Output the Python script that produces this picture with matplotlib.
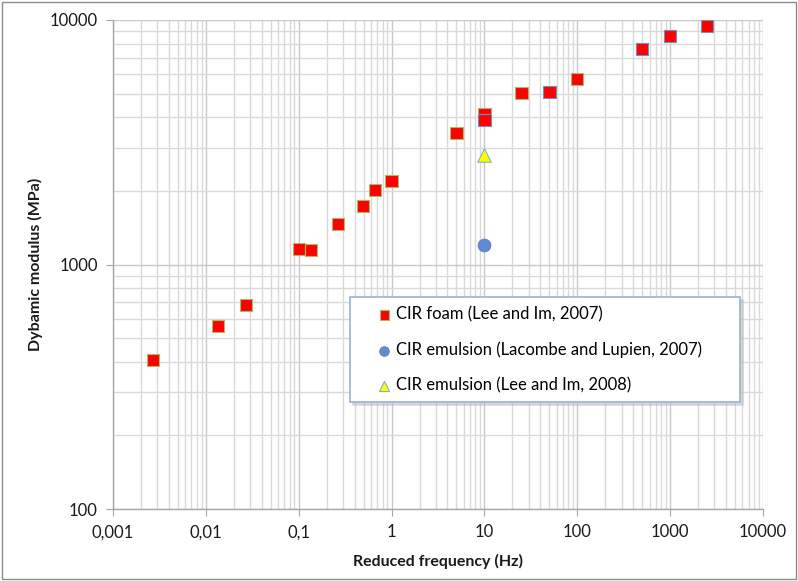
import matplotlib
matplotlib.use('Agg')
import matplotlib.pyplot as plt
from matplotlib.ticker import FixedLocator, NullFormatter
from matplotlib.patches import Rectangle

# ---- data ----
foam_freq = [0.0027, 0.0135, 0.027, 0.1, 0.135, 0.265, 0.49, 0.66, 1.0,
             5, 10, 10, 25, 50, 100, 500, 1000, 2500]
foam_mod = [407, 560, 683, 1157, 1146, 1465, 1735, 2017, 2197,
            3450, 4130, 3900, 5025, 5080, 5737, 7610, 8600, 9450]
lacombe_freq = [10]
lacombe_mod = [1200]
lee08_freq = [10]
lee08_mod = [2800]

x_ticks = [0.001, 0.01, 0.1, 1, 10, 100, 1000, 10000]
x_tick_labels = ['0,001', '0,01', '0,1', '1', '10', '100', '1000', '10000']
y_ticks = [100, 1000, 10000]
y_tick_labels = ['100', '1000', '10000']

labels = ['CIR foam (Lee and Im, 2007)',
          'CIR emulsion (Lacombe and Lupien, 2007)',
          'CIR emulsion (Lee and Im, 2008)']

plt.rcParams['font.family'] = ['Lato', 'DejaVu Sans']

W, H = 798, 581
fig = plt.figure(figsize=(W / 100, H / 100), dpi=100)
fig.patches.append(Rectangle((2 / W, 2 / H), 1 - 4 / W, 1 - 4 / H,
                             transform=fig.transFigure, fill=False,
                             edgecolor='#8c8c8c', linewidth=1.0))

L, R, T, B = 113, 763, 20, 509
ax = fig.add_axes([L / W, 1 - B / H, (R - L) / W, (B - T) / H])
ax.set_xscale('log')
ax.set_yscale('log')
ax.set_xlim(0.001, 10000)
ax.set_ylim(100, 10000)

# grid: minor lines at 1..9 of each decade
xminor = [m * 10.0 ** e for e in range(-3, 4) for m in range(1, 10)] + [10000]
yminor = [m * 10.0 ** e for e in range(2, 4) for m in range(1, 10)] + [10000]
ax.xaxis.set_minor_locator(FixedLocator(xminor))
ax.yaxis.set_minor_locator(FixedLocator(yminor))
ax.xaxis.set_minor_formatter(NullFormatter())
ax.yaxis.set_minor_formatter(NullFormatter())
ax.grid(True, which='minor', color='#d9d9d9', linewidth=1.0)
ax.grid(True, which='major', color='#c8c8c8', linewidth=1.0)
ax.set_axisbelow(True)

ax.set_xticks(x_ticks)
ax.set_xticklabels(x_tick_labels)
ax.set_yticks(y_ticks)
ax.set_yticklabels(y_tick_labels)
ax.tick_params(which='minor', length=0)
ax.tick_params(which='major', length=5, color='#a6a6a6', labelsize=12,
               labelcolor='#1a1a1a')
ax.tick_params(axis='x', pad=6)
ax.tick_params(axis='y', pad=6)

for s in ['top', 'right']:
    ax.spines[s].set_visible(False)
for s in ['left', 'bottom']:
    ax.spines[s].set_color('#a6a6a6')
    ax.spines[s].set_linewidth(1.0)

edge_cols = ['#a9b96a'] * len(foam_freq)
for i in [11, 13, 15, 16, 17]:
    edge_cols[i] = '#6f8fc8'

ax.scatter(foam_freq, foam_mod, marker='s', s=80, color='#ff0000',
           edgecolors=edge_cols, linewidths=0.8, zorder=3, label=labels[0])
ax.scatter(lacombe_freq, lacombe_mod, marker='o', s=85, color='#5b8bd9',
           edgecolors='#7d6fb0', linewidths=0.6, zorder=3, label=labels[1])
ax.scatter(lee08_freq, lee08_mod, marker='^', s=95, color='#ffff00',
           edgecolors='#7fb3c8', linewidths=0.8, zorder=3, label=labels[2])

ax.set_xlabel('Reduced frequency (Hz)', fontsize=11.5, fontweight='bold',
              labelpad=10, color='#1a1a1a')
ax.set_ylabel('Dybamic modulus (MPa)', fontsize=11.5, fontweight='bold',
              labelpad=5, color='#1a1a1a')

leg = ax.legend(loc='upper left',
                bbox_to_anchor=((350 - L) / (R - L), (B - 297) / (B - T),
                                (740 - 350) / (R - L), 0.0),
                mode='expand', fontsize=12, frameon=True, fancybox=False,
                edgecolor='#95b3d7', framealpha=1.0, borderpad=0.55,
                labelspacing=1.15, handletextpad=-0.8, handlelength=3.0,
                borderaxespad=0, markerscale=0.75,
                shadow={'color': '#bbbbbb', 'alpha': 0.5})
leg.get_frame().set_linewidth(1.2)

fig.savefig('out.png', dpi=100)
